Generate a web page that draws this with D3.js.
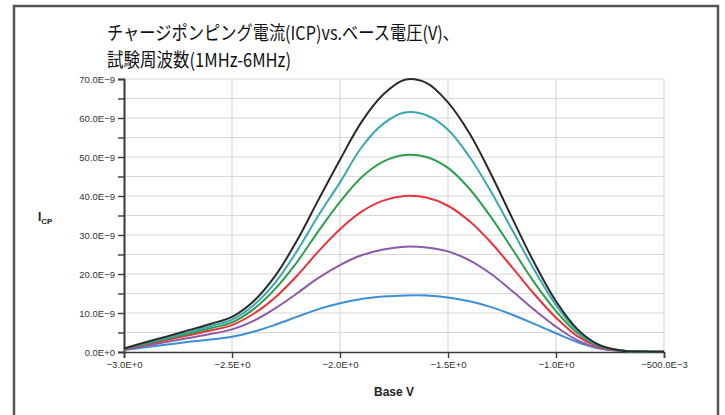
<!DOCTYPE html>
<html>
<head>
<meta charset="utf-8">
<script src="https://cdn.jsdelivr.net/npm/d3@7"></script>
<style>
body { margin: 0; background: #fff; }
.tick text { font-family: "Liberation Sans Narrow", "Liberation Sans", sans-serif; fill: #333; }
</style>
</head>
<body>
<script>
// base voltage samples (V)
var baseV = [-3.0, -2.9, -2.8, -2.7, -2.6, -2.5, -2.4, -2.3, -2.2, -2.1, -2.0, -1.9, -1.8,
    -1.7, -1.6, -1.5, -1.4, -1.3, -1.2, -1.1, -1.0, -0.9, -0.8, -0.7, -0.6, -0.5];

// charge pumping current, units of 1E-9 A, one array per test frequency
var f1MHz = [0.5, 1.2, 1.9, 2.6, 3.2, 3.9, 5.2, 7.0, 9.0, 11.0, 12.5, 13.6, 14.2,
    14.5, 14.5, 14.0, 13.0, 11.5, 9.5, 7.2, 4.8, 2.5, 0.9, 0.3, 0.1, 0.05];
var f2MHz = [0.6, 1.6, 2.6, 3.6, 4.6, 5.8, 8.0, 11.2, 15.0, 19.0, 22.3, 24.8, 26.3,
    27.0, 26.8, 25.8, 23.5, 20.0, 15.5, 10.8, 6.5, 3.0, 1.0, 0.3, 0.1, 0.05];
var f3MHz = [0.7, 1.9, 3.1, 4.3, 5.5, 6.9, 9.8, 14.0, 19.5, 25.8, 31.5, 36.0, 38.8,
    40.0, 39.6, 37.5, 33.5, 28.0, 21.5, 14.8, 8.8, 4.0, 1.3, 0.3, 0.1, 0.05];
var f4MHz = [0.8, 2.1, 3.4, 4.7, 6.1, 7.6, 11.0, 16.2, 23.0, 31.0, 38.5, 44.8, 48.8,
    50.5, 50.0, 47.2, 41.8, 34.5, 26.2, 17.8, 10.5, 4.8, 1.5, 0.4, 0.1, 0.05];
var f5MHz = [0.8, 2.3, 3.7, 5.1, 6.6, 8.3, 12.0, 17.8, 25.8, 35.0, 43.5, 52.5, 58.5,
    61.4, 60.7, 57.0, 50.0, 41.0, 31.0, 21.0, 12.0, 5.3, 1.6, 0.4, 0.1, 0.05];
var f6MHz = [0.9, 2.5, 4.0, 5.6, 7.2, 9.0, 13.0, 19.5, 28.5, 39.0, 49.3, 59.0, 66.0,
    69.8, 69.0, 64.0, 56.0, 45.5, 34.0, 22.8, 13.0, 5.8, 1.8, 0.4, 0.1, 0.05];

var seriesColors = ["#3b8fd8", "#8c5aaa", "#e8343c", "#2f9e4c", "#3aa8b0", "#2a2a2a"];

var xTicks = [-3.0, -2.5, -2.0, -1.5, -1.0, -0.5];
var xTickLabels = ["\u22123.0E+0", "\u22122.5E+0", "\u22122.0E+0", "\u22121.5E+0", "\u22121.0E+0", "\u2212500.0E\u22123"];
var yTicks = [0, 10, 20, 30, 40, 50, 60, 70];
var yTickLabels = ["0.0E+0", "10.0E\u22129", "20.0E\u22129", "30.0E\u22129", "40.0E\u22129", "50.0E\u22129", "60.0E\u22129", "70.0E\u22129"];
var yMinor = [5, 15, 25, 35, 45, 55, 65];

var titleLines = ["チャージポンピング電流(ICP)vs.ベース電圧(V)、", "試験周波数(1MHz-6MHz)"];

var width = 725;
var height = 415;

var svg = d3.select("body")
    .append("svg")
    .attr("width", width)
    .attr("height", height);

// outer frame (no bottom edge)
svg.append("path")
    .attr("d", "M14,415 V6 H718 V415")
    .attr("fill", "none")
    .attr("stroke", "#555")
    .attr("stroke-width", 2.5);

var x = d3.scaleLinear().domain([-3.0, -0.5]).range([124, 664]);
var y = d3.scaleLinear().domain([0, 70]).range([352, 79]);

// gridlines
var grid = svg.append("g").attr("stroke", "#d8d8d8").attr("stroke-width", 1.2);
grid.selectAll(".hg")
    .data(yTicks.concat(yMinor).filter(function(d) { return d > 0; }))
    .enter().append("line")
    .attr("x1", x(-3.0)).attr("x2", x(-0.5))
    .attr("y1", function(d) { return y(d); })
    .attr("y2", function(d) { return y(d); });
grid.selectAll(".vg")
    .data(xTicks.slice(1))
    .enter().append("line")
    .attr("y1", y(0)).attr("y2", y(70))
    .attr("x1", function(d) { return x(d); })
    .attr("x2", function(d) { return x(d); });

// axes
svg.append("g")
    .attr("transform", "translate(0," + y(0) + ")")
    .call(d3.axisBottom(x)
        .tickValues(xTicks)
        .tickSize(6)
        .tickPadding(3)
        .tickFormat(function(d, i) { return xTickLabels[i]; }));
svg.append("g")
    .attr("transform", "translate(" + x(-3.0) + ",0)")
    .call(d3.axisLeft(y)
        .tickValues(yTicks)
        .tickSize(6)
        .tickPadding(3)
        .tickFormat(function(d, i) { return yTickLabels[i]; }));
svg.append("g")
    .attr("transform", "translate(" + x(-3.0) + ",0)")
    .call(d3.axisLeft(y).tickValues(yMinor).tickSize(6).tickFormat(""));

svg.selectAll(".domain").attr("stroke", "#3a3a3a").attr("stroke-width", 1.6);
svg.selectAll(".tick line").attr("stroke", "#3a3a3a").attr("stroke-width", 1.4);
svg.selectAll(".tick text").style("font-size", "9.5px");

// curves
var allSeries = [f1MHz, f2MHz, f3MHz, f4MHz, f5MHz, f6MHz];
var line = d3.line()
    .x(function(d, i) { return x(baseV[i]); })
    .y(function(d) { return y(d); })
    .curve(d3.curveCatmullRom.alpha(0.5));

svg.append("g")
    .selectAll("path")
    .data(allSeries)
    .enter().append("path")
    .attr("d", line)
    .attr("fill", "none")
    .attr("stroke", function(d, i) { return seriesColors[i]; })
    .attr("stroke-width", 2);

// axis titles
svg.append("text")
    .attr("x", 394)
    .attr("y", 396)
    .attr("text-anchor", "middle")
    .style("font-family", "'Liberation Sans', sans-serif")
    .style("font-weight", "bold")
    .style("font-size", "12px")
    .attr("fill", "#222")
    .text("Base V");

var yLab = svg.append("text")
    .attr("x", 38)
    .attr("y", 221)
    .style("font-family", "'Liberation Sans', sans-serif")
    .style("font-weight", "bold")
    .style("font-size", "12px")
    .attr("fill", "#222");
yLab.append("tspan").text("I");
yLab.append("tspan").attr("dy", 3).style("font-size", "8px").text("CP");

// title
svg.selectAll(".title")
    .data(titleLines)
    .enter().append("text")
    .attr("x", 107)
    .attr("y", function(d, i) { return 40 + i * 27; })
    .attr("textLength", function(d, i) { return i === 0 ? 352 : 184; })
    .attr("lengthAdjust", "spacingAndGlyphs")
    .style("font-family", "'Noto Sans CJK JP', sans-serif")
    .style("font-size", "19px")
    .attr("fill", "#111")
    .text(function(d) { return d; });
</script>
</body>
</html>
